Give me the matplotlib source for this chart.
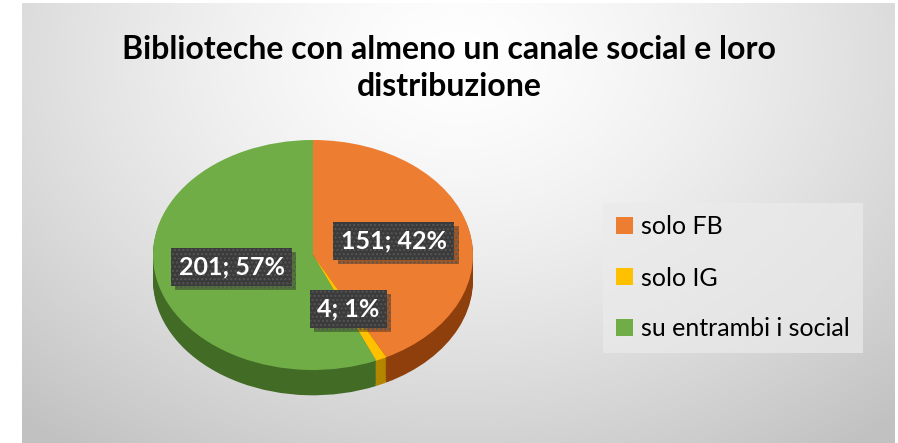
import numpy as np
import matplotlib.pyplot as plt
from matplotlib.patches import Patch
import matplotlib.patheffects as pe

plt.rcParams['font.family'] = ['Lato', 'DejaVu Sans']

# dati
categorie = ['solo FB', 'solo IG', 'su entrambi i social']
valori = [151, 4, 201]
percentuali = [42, 1, 57]   # come mostrate nel grafico originale
colori = ['#ED7D31', '#FFC000', '#70AD47']
colori_lato = ['#8f3f0c', '#b38600', '#426b25']
titolo = 'Biblioteche con almeno un canale social e loro\ndistribuzione'

W, H = 898, 443
fig = plt.figure(figsize=(W / 100, H / 100), dpi=100)
fig.patch.set_facecolor('white')

# sfondo grigio con gradiente radiale
bg = fig.add_axes([22 / W, 0, (W - 25) / W, (H - 3) / H])
xx, yy = np.meshgrid(np.linspace(0, 1, 400), np.linspace(0, 1, 200))
r = np.sqrt(((xx - 0.5) / 0.75) ** 2 + ((yy - 0.12) / 1.1) ** 2)
g = 1.0 - 0.24 * np.clip(r, 0, 1) ** 1.4
bg.imshow(np.dstack([g, g, g]), aspect='auto', extent=[0, 1, 1, 0])
bg.set_axis_off()

# torta 3D (schiacciata)
cx, cy, rx, ry = 313, 255, 160, 115
prof = 0.22
ylo = -1 - prof - 0.1
ax = fig.add_axes([(cx - rx) / W, (H - (cy + ry * -ylo)) / H,
                   2 * rx / W, ry * (1 - ylo) / H])

for d in np.linspace(prof, 0.01, 14):
    ax.pie(valori, colors=colori_lato, startangle=90, counterclock=False,
           center=(0, -d), wedgeprops=dict(linewidth=0))

etichette = iter(['%d; %d%%' % (v, p) for v, p in zip(valori, percentuali)])
wedges, testi, autotesti = ax.pie(
    valori, colors=colori, startangle=90, counterclock=False,
    wedgeprops=dict(linewidth=0), pctdistance=0.52,
    autopct=lambda p: next(etichette))

for t in autotesti:
    t.set_color('white')
    t.set_fontsize(18)
    t.set_fontweight('bold')
    t.set_bbox(dict(boxstyle='square,pad=0.3', facecolor='#3b3b3b',
                    edgecolor='#555555', hatch='....', linewidth=0))
    t.get_bbox_patch().set_path_effects(
        [pe.SimplePatchShadow(offset=(3, -3), alpha=0.35), pe.Normal()])

ax.set_aspect('auto')
ax.set_xlim(-1, 1)
ax.set_ylim(ylo, 1)

fig.text(0.5, 1 - 68 / H, titolo, ha='center', va='center', fontsize=23,
         fontweight='bold', color='black', linespacing=1.35)

handles = [Patch(facecolor=c, edgecolor='none') for c in colori]
fig.legend(handles, categorie, loc='center left',
           bbox_to_anchor=(603 / W, 1 - 278 / H), fontsize=18,
           handlelength=0.68, handleheight=0.68, handletextpad=0.35,
           labelspacing=1.12, frameon=True, facecolor='#ebebeb',
           edgecolor='none', framealpha=0.7, fancybox=False,
           borderpad=0.5, borderaxespad=0)

fig.savefig('out.png', dpi=100)
